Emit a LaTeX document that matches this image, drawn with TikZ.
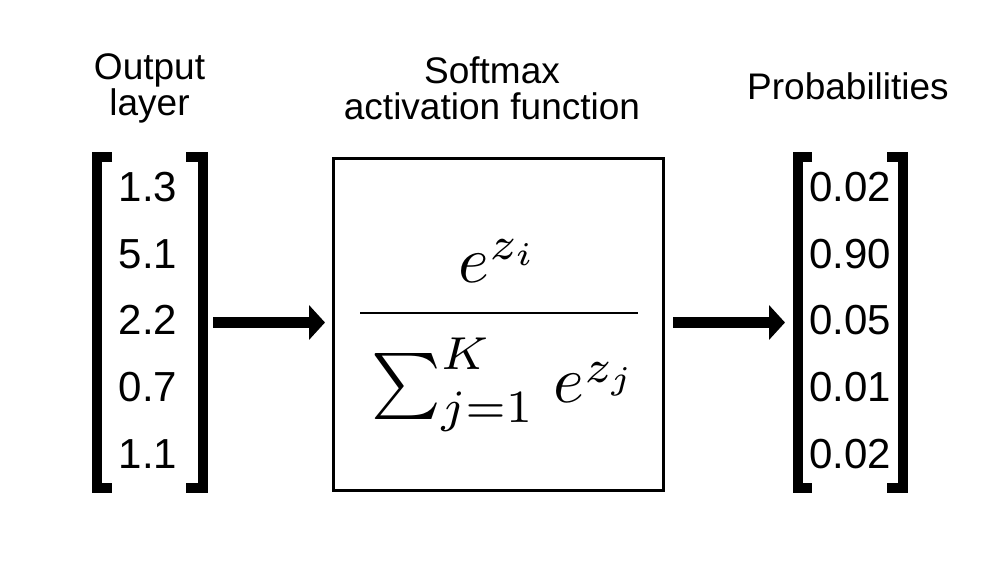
\documentclass[tikz,border=0pt]{standalone}
\usepackage{amsmath}
\usepackage{fontspec}
\newfontfamily\labelfont{Liberation Sans}
\usetikzlibrary{arrows.meta}
\usetikzlibrary{positioning}

\begin{document}
\begin{tikzpicture}[
    x=1pt, y=1pt,
    lbl/.style={font=\labelfont\fontsize{37}{36}\selectfont, align=center,
      inner sep=0pt, anchor=north},
    num/.style={font=\labelfont\fontsize{42}{42}\selectfont, inner sep=0pt, anchor=base},
    vec/.style={minimum width=105.5pt, minimum height=330pt, inner sep=0pt, outer sep=0pt},
    brk/.style={line width=10pt},
    fnbox/.style={draw, line width=3pt, minimum width=330pt, minimum height=332pt, inner sep=0pt},
    flow/.style={line width=11pt, -{Triangle[length=16pt, width=34pt]}},
  ]
  \useasboundingbox (0,0) rectangle (986,566);

  % === Output layer ===
  \node[lbl] (outlbl) at (149.5,513) {Output\\layer};
  \node[vec] (outvec) at (149.75,243.5) {};
  \foreach \v [count=\i from 0] in {1.3,5.1,2.2,0.7,1.1}
    \node[num] (out\i) at (148,364.3-66.6*\i) {\v};
  \draw[brk] ([xshift=15pt]outvec.north west) -- (outvec.north west)
    -- (outvec.south west) -- ([xshift=15pt]outvec.south west);
  \draw[brk] ([xshift=-16.5pt]outvec.north east) -- (outvec.north east)
    -- (outvec.south east) -- ([xshift=-16.5pt]outvec.south east);

  % === Softmax ===
  \node[lbl] (smaxlbl) at (492,509) {Softmax\\activation function};
  \node[fnbox] (smax) at (498.5,241.5) {};
  \node[scale=6.6, inner sep=0pt, anchor=base] (smaxfn) at (499,236.5)
    {$\displaystyle\frac{\rule[-3.15pt]{0pt}{3.15pt}e^{z_i}}
      {\rule{0pt}{12.2pt}\sum_{j=1}^{K}\mkern2mu e^{z_j}}$};

  % === Probabilities ===
  \node[lbl] (problbl) at (848,494) {Probabilities};
  \node[vec] (probvec) at (850.25,243.5) {};
  \foreach \v [count=\i from 0] in {0.02,0.90,0.05,0.01,0.02}
    \node[num] (prob\i) at (850,364.3-66.6*\i) {\v};
  \draw[brk] ([xshift=14.5pt]probvec.north west) -- (probvec.north west)
    -- (probvec.south west) -- ([xshift=14.5pt]probvec.south west);
  \draw[brk] ([xshift=-16pt]probvec.north east) -- (probvec.north east)
    -- (probvec.south east) -- ([xshift=-16pt]probvec.south east);

  % arrows
  \draw[flow, shorten <=10.5pt, shorten >=7pt] (outvec.east) -- (outvec.east -| smax.west);
  \draw[flow, shorten <=8pt, shorten >=12.5pt] (smax.east |- probvec.west) -- (probvec.west);

\end{tikzpicture}
\end{document}
